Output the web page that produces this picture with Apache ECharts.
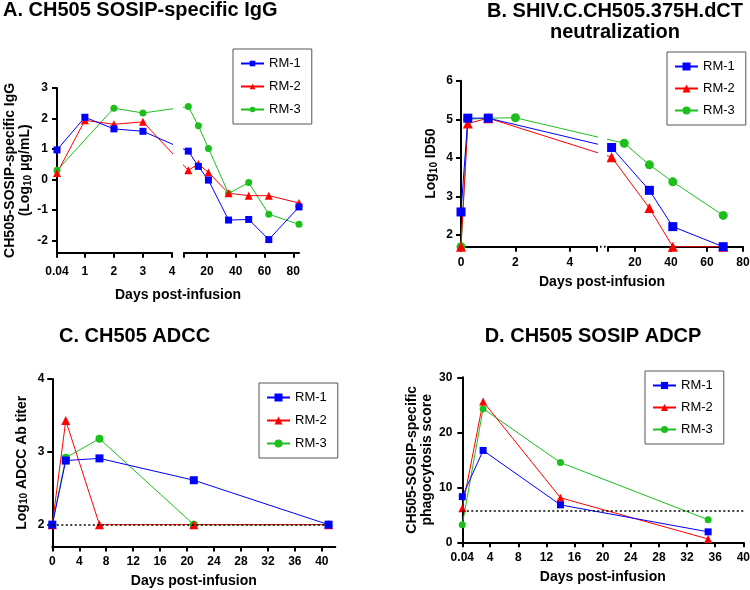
<!DOCTYPE html>
<html><head><meta charset="utf-8">
<script src="https://cdn.jsdelivr.net/npm/echarts@6/dist/echarts.min.js"></script>
<style>html,body{margin:0;padding:0;background:#fff}#c{width:750px;height:590px}</style>
</head><body><div id="c"></div>
<script>
// ---------- DATA ----------
const seriesNames = ['RM-1', 'RM-2', 'RM-3'];

// Panel A: CH505 SOSIP-specific IgG (log10 ug/mL), broken x axis
const aDaysEarly = [0.04, 1, 2, 3];
const aDaysLate = [7, 14, 21, 35, 49, 63, 84];
const aRM1Early = [0.97, 2.04, 1.66, 1.58];
const aRM1Late = [0.93, 0.43, -0.02, -1.33, -1.31, -1.97, -0.90];
const aRM2Early = [0.21, 1.94, 1.81, 1.89];
const aRM2Late = [0.30, 0.51, 0.23, -0.45, -0.53, -0.53, -0.77];
const aRM3Early = [0.30, null, 2.34, 2.18];
const aRM3Late = [2.39, 1.76, 1.02, -0.46, -0.10, -1.14, -1.47];
const aXTicksEarly = [0.04, 1, 2, 3, 4];
const aXTicksLate = [20, 40, 60, 80];
const aYTicks = [-2, -1, 0, 1, 2, 3];

// Panel B: neutralization (log10 ID50), broken x axis
const bDaysEarly = [0, 0.25, 1, 2];
const bDaysLate = [7, 14, 28, 41, 69];
const bRM1Early = [2.6, 5.03, 5.03, null];
const bRM1Late = [4.27, null, 3.16, 2.22, 1.7];
const bRM2Early = [1.7, 4.89, 5.03, null];
const bRM2Late = [4.02, null, 2.70, 1.7, 1.7];
const bRM3Early = [1.7, 5.0, 5.03, 5.04];
const bRM3Late = [null, 4.38, 3.82, 3.38, 2.51];
const bXTicksEarly = [0, 2, 4];
const bXTicksLate = [20, 40, 60, 80];
const bYTicks = [2, 3, 4, 5, 6];

// Panel C: ADCC (log10 titer)
const cDays = [0, 2, 7, 21, 41];
const cRM1 = [2, 2.88, 2.91, 2.61, 2];
const cRM2 = [2, 3.43, 2, 2, 2];
const cRM3 = [2, 2.92, 3.18, 2, 2];
const cCutoff = 2;
const cXTicks = [0, 4, 8, 12, 16, 20, 24, 28, 32, 36, 40];
const cYTicks = [2, 3, 4];

// Panel D: ADCP (phagocytosis score)
const dDays = [0.04, 3, 14, 35];
const dRM1 = [8.3, 16.7, 6.8, 1.9];
const dRM2 = [6.2, 25.6, 8.1, 0.6];
const dRM3 = [3.2, 24.3, 14.5, 4.1];
const dCutoff = 5.75;
const dXTicks = [0.04, 4, 8, 12, 16, 20, 24, 28, 32, 36, 40];
const dYTicks = [0, 10, 20, 30];

// ---------- STYLE / LAYOUT ----------
const FONT = '"Liberation Sans", Arial, Helvetica, sans-serif';
const STY = {
  'RM-1': { color: '#0000FF', symbol: 'rect', d: 0 },
  'RM-2': { color: '#FF0000', symbol: 'triangle', d: 1 },
  'RM-3': { color: '#1DBF1D', symbol: 'circle', d: 0 }
};
const GA = { top: 88, height: 164.7, lL: 57, wL: 115, lR: 184, wR: 115, aL: 0.04, bL: 4, aR: 4, bR: 84, yMin: -2.4, yMax: 3 };
GA.g = GA.lR - GA.lL - GA.wL;
const GB = { top: 80.7, height: 166, lL: 461, wL: 136, lR: 608, wR: 135, aL: 0, bL: 5, aR: 5, bR: 80, yMin: 1.7, yMax: 6 };
GB.g = GB.lR - GB.lL - GB.wL;
const GC = { top: 379, height: 167.5, left: 52.3, width: 283, xMin: 0, xMax: 42, yMin: 1.7, yMax: 4 };
const GD = { top: 377.3, height: 165, left: 462.3, width: 281, xMin: 0.04, xMax: 40, yMin: 0, yMax: 30 };

const txt = (size, weight) => ({ fontFamily: FONT, fontSize: size, fontWeight: weight || 'bold', color: '#000' });

function pairs(xs, ys) {
  return xs.map((x, i) => [x, ys[i]]).filter(p => p[1] !== null && p[1] !== undefined);
}

function xAxisDef(gi, min, max, ticks, labels, margin) {
  return {
    type: 'value', gridIndex: gi, min: min, max: max,
    axisLine: { show: true, onZero: false, lineStyle: { color: '#000', width: 2 } },
    axisTick: { show: true, length: 5, inside: false, customValues: ticks, lineStyle: { color: '#000', width: 2 } },
    axisLabel: Object.assign({ show: true, customValues: labels, margin: margin, hideOverlap: false }, txt(12)),
    splitLine: { show: false }
  };
}
function yAxisDef(gi, min, max, ticks, show, name, nameGap, margin, rich) {
  return {
    type: 'value', gridIndex: gi, min: min, max: max, show: show,
    name: name || '', nameLocation: 'middle', nameRotate: 90, nameGap: nameGap || 0,
    nameTextStyle: Object.assign({ lineHeight: 15, rich: rich || {} }, txt(14)),
    axisLine: { show: true, onZero: false, lineStyle: { color: '#000', width: 2 } },
    axisTick: { show: true, length: 5, customValues: ticks, lineStyle: { color: '#000', width: 2 } },
    axisLabel: Object.assign({ show: true, customValues: ticks, margin: margin || 8 }, txt(12)),
    splitLine: { show: false }
  };
}
const SUB = { sub: { fontFamily: FONT, fontSize: 10, fontWeight: 'bold', color: '#000', verticalAlign: 'bottom', lineHeight: 15, padding: [5, 0, 0, 0] } };

function lineSeries(name, data, idx, size, extra) {
  const s = STY[name];
  return Object.assign({
    type: 'line', name: name, data: data, xAxisIndex: idx, yAxisIndex: idx,
    symbol: s.symbol, symbolSize: size + s.d, clip: true, animation: false,
    lineStyle: { color: s.color, width: 1 }, itemStyle: { color: s.color },
    emphasis: { disabled: true }
  }, extra || {});
}
function brokenSeries(name, xsE, ysE, xsL, ysL, G, idxL, idxR, size) {
  const early = pairs(xsE, ysE), late = pairs(xsL, ysL);
  const toLeft = x => G.aL + (G.wL + G.g + (x - G.aR) * G.wR / (G.bR - G.aR)) * (G.bL - G.aL) / G.wL;
  const toRight = x => G.aR - (G.g + (G.bL - x) * G.wL / (G.bL - G.aL)) * (G.bR - G.aR) / G.wR;
  const fl = late[0], le = early[early.length - 1];
  return [
    lineSeries(name, early.concat([[toLeft(fl[0]), fl[1]]]), idxL, size),
    lineSeries(name, [[toRight(le[0]), le[1]]].concat(late), idxR, size)
  ];
}
function legendDef(left, top, itemH, gap) {
  return {
    orient: 'vertical', left: left, top: top, data: seriesNames, selectedMode: false,
    itemWidth: 23, itemHeight: itemH, itemGap: gap,
    borderColor: '#555', borderWidth: 1, padding: [8, 11, 8, 7], borderRadius: 0,
    textStyle: txt(13, 'normal')
  };
}

// ---------- OPTION ----------
const grids = [
  { left: GA.lL, top: GA.top, width: GA.wL, height: GA.height },
  { left: GA.lR, top: GA.top, width: GA.wR, height: GA.height },
  { left: GB.lL, top: GB.top, width: GB.wL, height: GB.height },
  { left: GB.lR, top: GB.top, width: GB.wR, height: GB.height },
  { left: GC.left, top: GC.top, width: GC.width, height: GC.height },
  { left: GD.left, top: GD.top, width: GD.width, height: GD.height }
].map(g => Object.assign({ containLabel: false, outerBoundsMode: 'none' }, g));

const xAxes = [
  xAxisDef(0, GA.aL, GA.bL, aXTicksEarly, aXTicksEarly, 13),
  xAxisDef(1, GA.aR, GA.bR, [GA.aR].concat(aXTicksLate), aXTicksLate, 13),
  xAxisDef(2, GB.aL, GB.bL, bXTicksEarly.concat([GB.bL]), bXTicksEarly, 10),
  xAxisDef(3, GB.aR, GB.bR, [GB.aR].concat(bXTicksLate), bXTicksLate, 10),
  xAxisDef(4, GC.xMin, GC.xMax, cXTicks, cXTicks, 9),
  xAxisDef(5, GD.xMin, GD.xMax, dXTicks, dXTicks, 9)
];
const yAxes = [
  yAxisDef(0, GA.yMin, GA.yMax, aYTicks, true, 'CH505-SOSIP-specific IgG\n(Log{sub|10} μg/mL)', 24, 9, SUB),
  yAxisDef(1, GA.yMin, GA.yMax, aYTicks, false),
  yAxisDef(2, GB.yMin, GB.yMax, bYTicks, true, 'Log{sub|10} ID50', 22, 8, SUB),
  yAxisDef(3, GB.yMin, GB.yMax, bYTicks, false),
  yAxisDef(4, GC.yMin, GC.yMax, cYTicks, true, 'Log{sub|10} ADCC Ab titer', 23, 8, SUB),
  yAxisDef(5, GD.yMin, GD.yMax, dYTicks, true, 'CH505-SOSIP-specific\nphagocytosis score', 26, 10)
];

const series = [];
// draw order: RM-3 bottom, RM-1 on top
const A = { 'RM-1': [aRM1Early, aRM1Late], 'RM-2': [aRM2Early, aRM2Late], 'RM-3': [aRM3Early, aRM3Late] };
const B = { 'RM-1': [bRM1Early, bRM1Late], 'RM-2': [bRM2Early, bRM2Late], 'RM-3': [bRM3Early, bRM3Late] };
const C = { 'RM-1': cRM1, 'RM-2': cRM2, 'RM-3': cRM3 };
const D = { 'RM-1': dRM1, 'RM-2': dRM2, 'RM-3': dRM3 };
const dotted = { type: [2, 2.5], color: '#000', width: 1.5 };
['RM-3', 'RM-2', 'RM-1'].forEach((n, k) => {
  series.push(...brokenSeries(n, aDaysEarly, A[n][0], aDaysLate, A[n][1], GA, 0, 1, 7));
  series.push(...brokenSeries(n, bDaysEarly, B[n][0], bDaysLate, B[n][1], GB, 2, 3, 9));
  series.push(lineSeries(n, pairs(cDays, C[n]), 4, 8, k === 0 ? {
    markLine: { silent: true, symbol: 'none', label: { show: false }, lineStyle: dotted, animation: false,
      data: [[{ coord: [GC.xMin, cCutoff] }, { coord: [cDays[cDays.length - 1], cCutoff] }]] }
  } : {}));
  series.push(lineSeries(n, pairs(dDays, D[n]), 5, 7, k === 0 ? {
    markLine: { silent: true, symbol: 'none', label: { show: false }, lineStyle: dotted, animation: false,
      data: [[{ coord: [GD.xMin, dCutoff] }, { coord: [GD.xMax, dCutoff] }]] }
  } : {}));
});

const titles = [
  { text: 'A. CH505 SOSIP-specific IgG', left: 3, top: 0, fs: 20 },
  { text: 'B. SHIV.C.CH505.375H.dCT\nneutralization', left: 615, top: 1, textAlign: 'center', lh: 21, fs: 20 },
  { text: 'C. CH505 ADCC', left: 59, top: 326, fs: 20 },
  { text: 'D. CH505 SOSIP ADCP', left: 593, top: 326, textAlign: 'center', fs: 20 },
  { text: 'Days post-infusion', left: (GA.lL + GA.lR + GA.wR) / 2, top: 288, textAlign: 'center', fs: 14 },
  { text: 'Days post-infusion', left: (GB.lL + GB.lR + GB.wR) / 2, top: 275, textAlign: 'center', fs: 14 },
  { text: 'Days post-infusion', left: GC.left + GC.width / 2, top: 574, textAlign: 'center', fs: 14 },
  { text: 'Days post-infusion', left: GD.left + GD.width / 2, top: 570, textAlign: 'center', fs: 14 }
].map(t => {
  const o = { text: t.text, left: t.left, top: t.top, padding: 0,
    textStyle: Object.assign(txt(t.fs), t.lh ? { lineHeight: t.lh } : {}) };
  if (t.textAlign) o.textAlign = t.textAlign;
  return o;
});

const bAxisY = GB.top + GB.height;
const option = {
  backgroundColor: '#fff',
  animation: false,
  title: titles,
  grid: grids,
  xAxis: xAxes,
  yAxis: yAxes,
  legend: [
    legendDef(233, 49, 7, 10),
    legendDef(667, 52, 10, 9),
    legendDef(259, 383, 10, 10),
    legendDef(645, 371, 9, 9)
  ],
  graphic: [{
    type: 'line', silent: true,
    shape: { x1: GB.lL + GB.wL + 3, y1: bAxisY, x2: GB.lR - 2, y2: bAxisY },
    style: { stroke: '#000', lineWidth: 2, lineDash: [1.5, 2.5] }
  }],
  series: series
};
const chart = echarts.init(document.getElementById('c'), null, { renderer: 'canvas' });
chart.setOption(option);
</script></body></html>
